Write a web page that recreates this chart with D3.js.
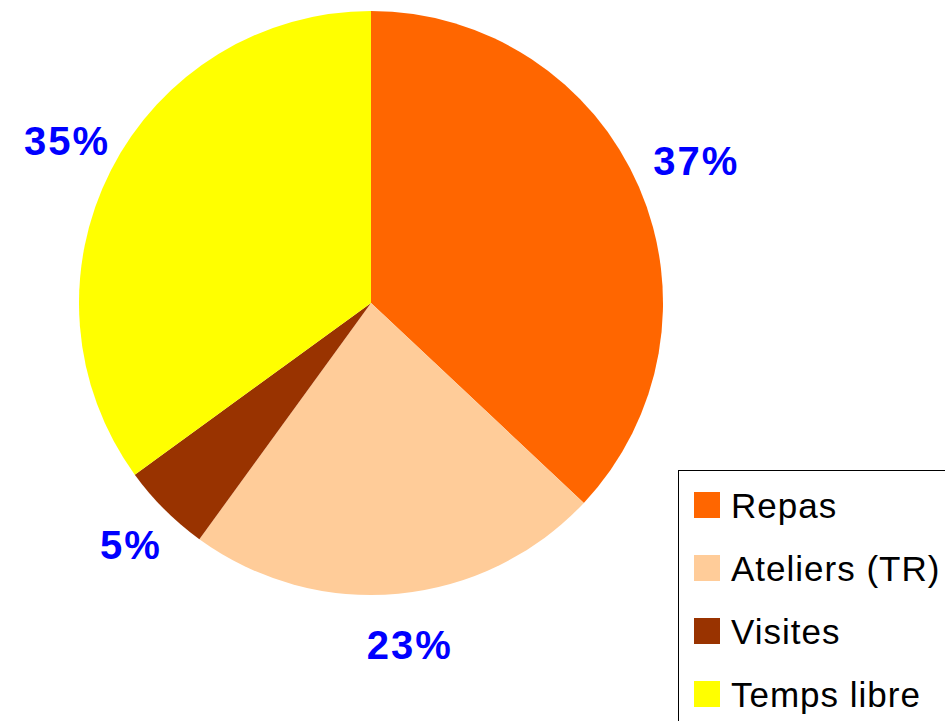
<!DOCTYPE html>
<html><head><meta charset="utf-8">
<script src="https://cdn.jsdelivr.net/npm/d3@7"></script>
<style>body{margin:0;background:#fff;overflow:hidden}svg{display:block}</style>
</head><body>
<script>
const categories = ["Repas", "Ateliers (TR)", "Visites", "Temps libre"];
const values = [37, 23, 5, 35];
const colors = ["#ff6600", "#ffcc99", "#993300", "#ffff00"];
const labels = ["37%", "23%", "5%", "35%"];

const W = 945, H = 721;
const svg = d3.select("body").append("svg").attr("width", W).attr("height", H);
const cx = 371, cy = 303, R = 292, LR = 348;

const data = categories.map((c, i) => ({cat: c, value: values[i], color: colors[i], label: labels[i]}));
const pie = d3.pie().value(d => d.value).sort(null);
const arcs = pie(data);
const arc = d3.arc().innerRadius(0).outerRadius(R);
const labelArc = d3.arc().innerRadius(LR).outerRadius(LR);

const g = svg.append("g").attr("transform", `translate(${cx},${cy})`);
g.selectAll("path").data(arcs).join("path")
  .attr("d", arc).attr("fill", d => d.data.color);

g.selectAll("text").data(arcs).join("text")
  .attr("transform", d => { const [x, y] = labelArc.centroid(d); return `translate(${x + 6},${y - 4})`; })
  .attr("text-anchor", "middle").attr("dominant-baseline", "central")
  .attr("font-family", "Liberation Sans, Arial, sans-serif")
  .attr("font-weight", "bold").attr("font-size", 40)
  .attr("letter-spacing", 2)
  .attr("fill", "#0000ff")
  .text(d => d.data.label);

// legend
const lg = svg.append("g");
lg.append("rect").attr("x", 678.5).attr("y", 470.5).attr("width", 300).attr("height", 300)
  .attr("fill", "#fff").attr("stroke", "#000").attr("stroke-width", 1);
const rowY = d3.scaleLinear().domain([0, 1]).range([505, 568]);
data.forEach((d, i) => {
  const y = rowY(i);
  lg.append("rect").attr("x", 694).attr("y", y - 13).attr("width", 26).attr("height", 26).attr("fill", d.color);
  lg.append("text").attr("x", 731).attr("y", y + 13)
    .attr("font-family", "Liberation Sans, Arial, sans-serif")
    .attr("font-size", 35).attr("letter-spacing", 1).attr("fill", "#000")
    .text(d.cat);
});
</script>
</body></html>
